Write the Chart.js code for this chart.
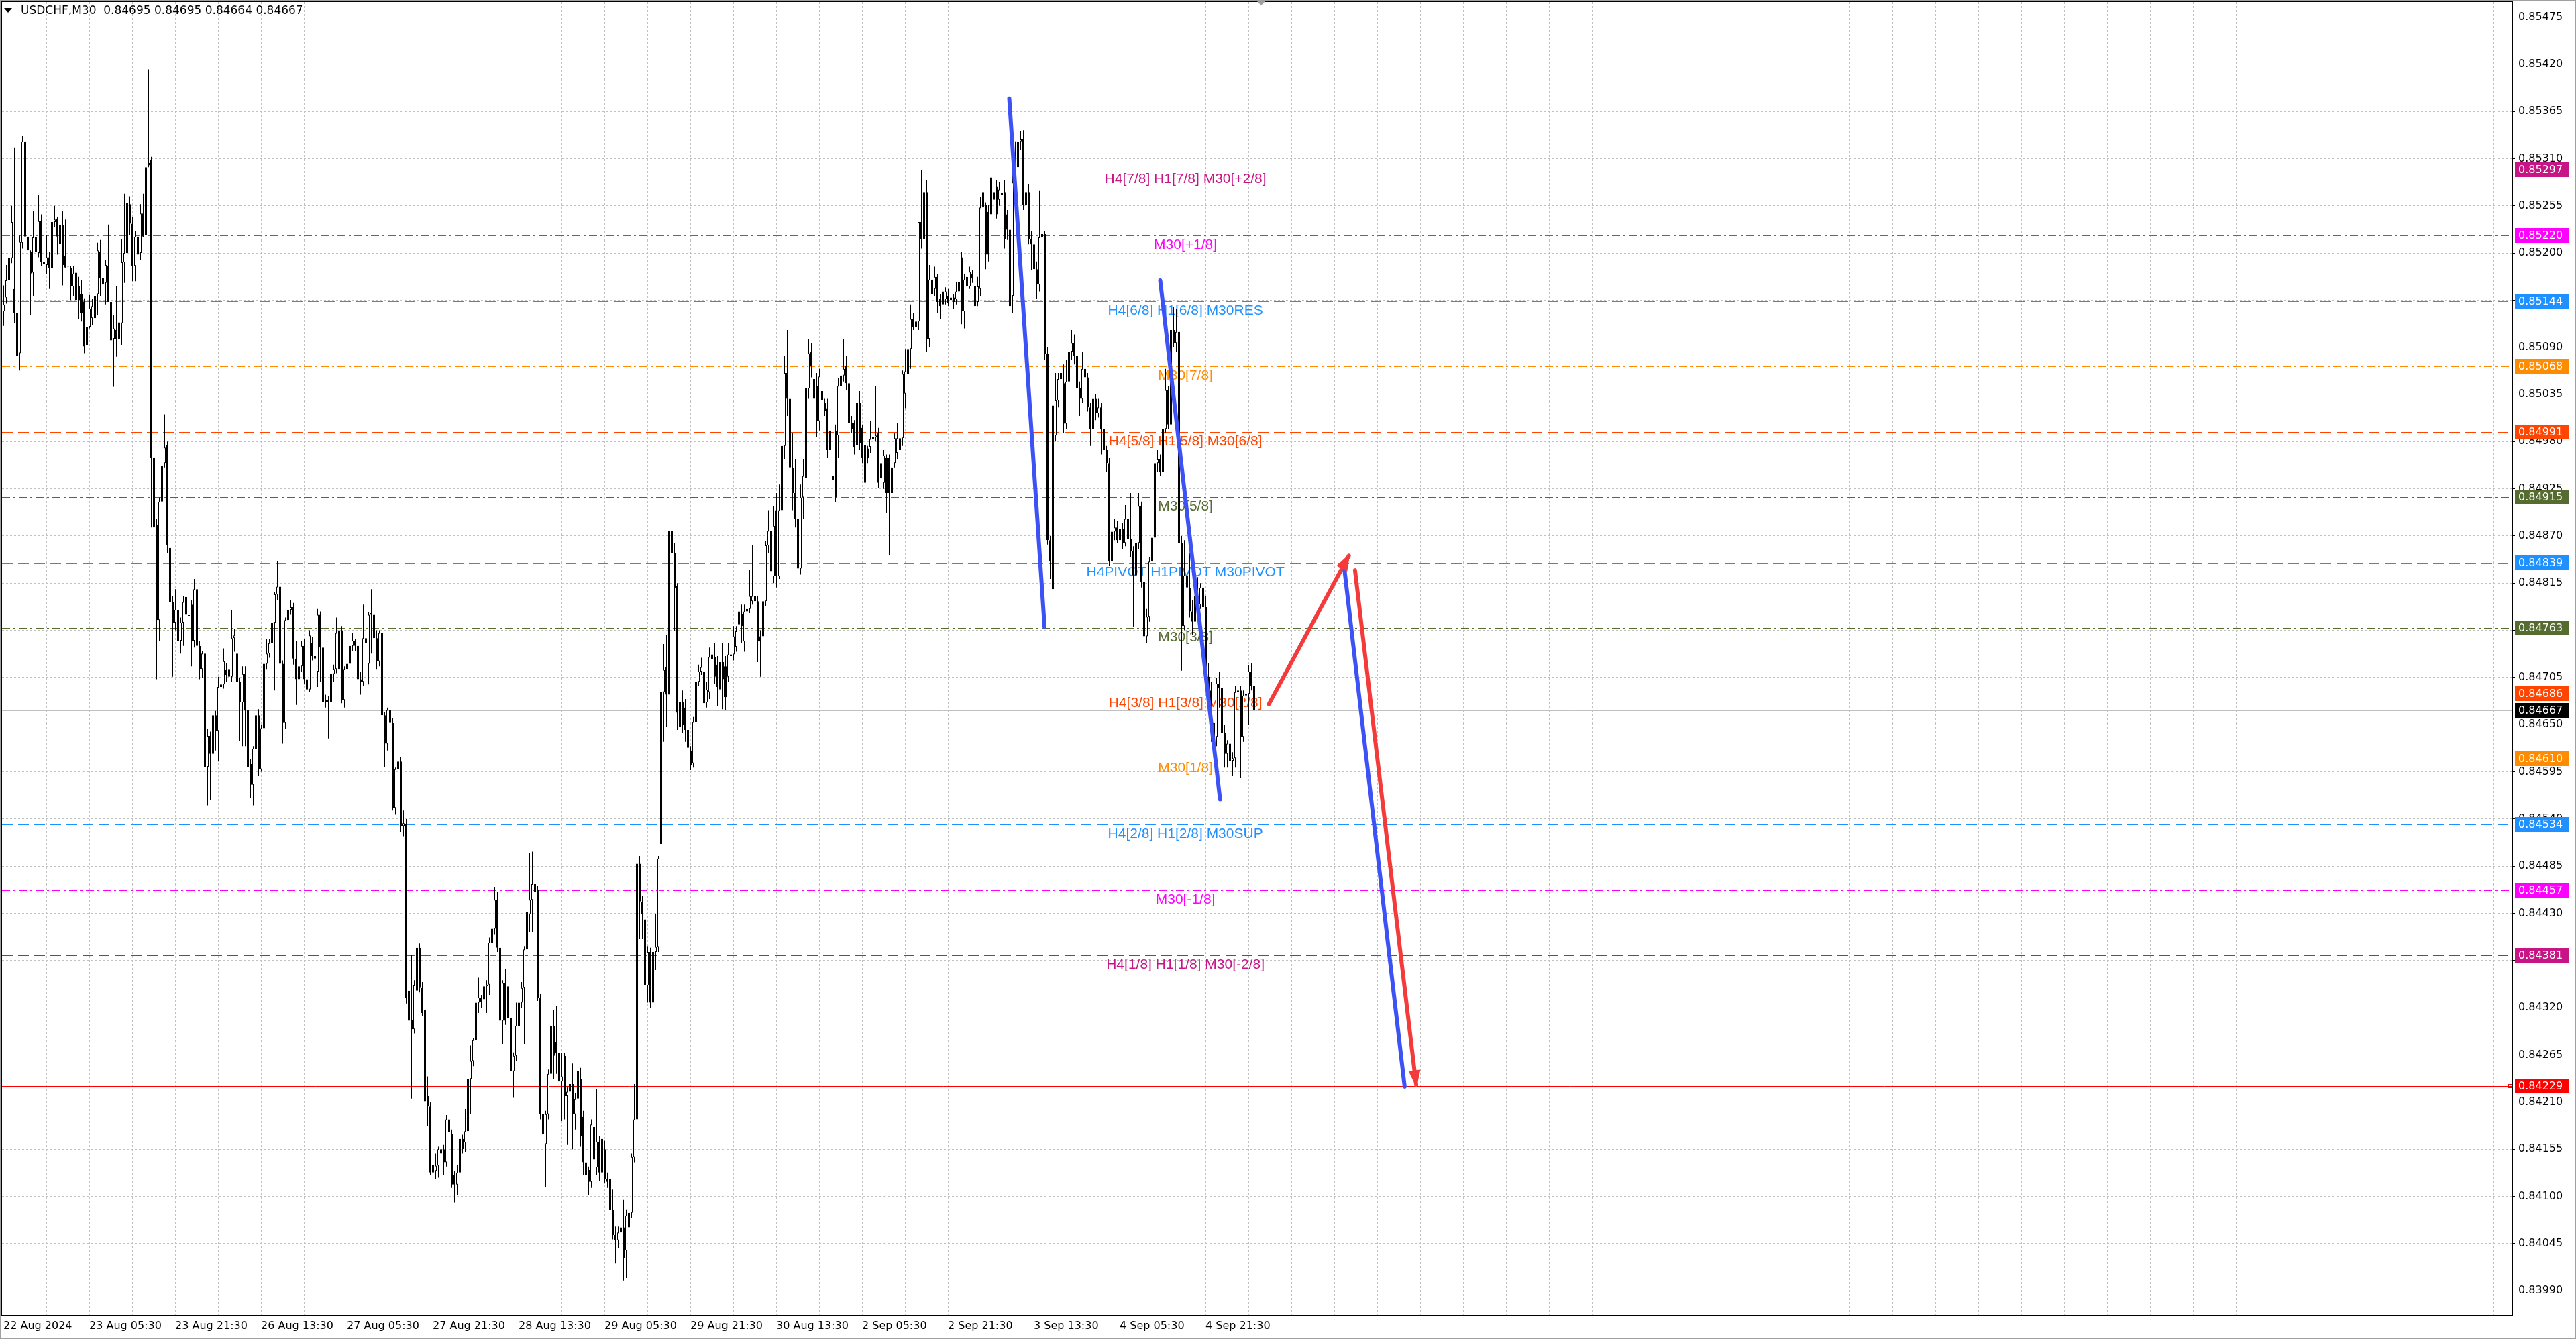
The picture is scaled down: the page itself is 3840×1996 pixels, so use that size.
<!DOCTYPE html>
<html>
<head>
<meta charset="utf-8">
<title>USDCHF,M30</title>
<script src="https://cdn.jsdelivr.net/npm/chart.js@4.4.1/dist/chart.umd.min.js"></script>
<style>
  html, body { margin: 0; padding: 0; background: #fff; overflow: hidden; }
  canvas { display: block; }
</style>
</head>
<body>
<canvas id="chart" width="3840" height="1996"></canvas>
<script>
/* USDCHF M30 candles, prices kept in points (1e-5) */

const opens = [
  85132,85148,85168,85194,85158,85130,85083,85212,85330,85219,
  85201,85177,85218,85200,85237,85189,85186,85195,85182,85236,
  85240,85210,85232,85196,85185,85182,85161,85177,85161,85152,
  85143,85092,85114,85124,85124,85152,85201,85171,85165,85185,
  85143,85100,85110,85100,85118,85189,85200,85257,85234,85185,
  85219,85200,85246,85221,85305,85309,84961,84883,84772,84910,
  84955,84976,84856,84793,84769,84784,84748,84769,84799,84777,
  84790,84748,84808,84742,84715,84733,84601,84637,84616,84661,
  84643,84694,84697,84714,84715,84706,84751,84733,84700,84676,
  84709,84667,84604,84580,84622,84661,84598,84646,84721,84733,
  84745,84769,84802,84811,84721,84652,84772,84784,84787,84727,
  84703,84718,84742,84703,84691,84745,84730,84712,84778,84740,
  84679,84679,84676,84709,84715,84715,84760,84679,84715,84721,
  84742,84748,84742,84703,84700,84751,84721,84778,84778,84751,
  84724,84757,84661,84628,84667,84652,84553,84598,84607,84532,
  84534,84340,84306,84295,84340,84390,84343,84317,84217,84205,
  84137,84130,84136,84155,84155,84140,84190,84173,84125,84114,
  84128,84167,84163,84176,84237,84258,84282,84326,84332,84330,
  84345,84347,84396,84412,84446,84390,84305,84349,84345,84308,
  84246,84264,84299,84326,84343,84388,84429,84446,84464,84458,
  84332,84196,84161,84196,84243,84299,84280,84267,84234,84264,
  84217,84222,84231,84196,84214,84237,84193,84140,84131,84117,
  84181,84134,84164,84128,84155,84120,84120,84084,84055,84049,
  84058,84064,84037,84064,84081,84146,84190,84488,84444,84423,
  84346,84385,84326,84385,84391,84511,84688,84717,84685,84876,
  84850,84812,84647,84676,84670,84644,84620,84605,84653,84700,
  84712,84712,84676,84688,84726,84729,84720,84691,84723,84718,
  84706,84732,84732,84741,84767,84779,84747,84782,84785,84794,
  84800,84794,84753,84753,84794,84859,84876,84823,84900,84823,
  84900,84975,85060,85030,84950,84920,84890,84832,84915,84938,
  85042,85085,85053,85045,85004,85039,85025,85019,84970,84940,
  84993,84987,85045,85057,85068,85048,85002,85002,84976,85025,
  84996,84976,84972,84974,84983,84985,84990,84955,84932,84961,
  84961,84950,84955,84967,84984,84984,85036,85059,85088,85123,
  85114,85120,85236,85216,85271,85100,85169,85158,85172,85146,
  85155,85146,85150,85145,85148,85146,85155,85195,85132,85172,
  85161,85175,85161,85143,85158,85253,85256,85248,85245,85271,
  85277,85262,85270,85271,85245,85227,85150,85282,85300,85330,
  85333,85256,85271,85216,85210,85181,85163,85218,85222,85082,
  84865,84808,84987,85028,85053,85048,85001,85050,85085,85095,
  85080,85042,85030,85065,85055,85020,84995,85030,85013,85020,
  84995,84970,84955,84840,84875,84880,84865,84878,84862,84890,
  84866,84852,84824,84862,84905,84816,84753,84776,84840,84868,
  84955,84960,84945,84995,85040,85000,85110,85095,85108,84862,
  84765,84824,84810,84782,84770,84800,84790,84810,84787,84706,
  84690,84652,84636,84698,84693,84640,84616,84628,84608,84611,
  84688,84690,84636,84684,84686,84712,84695
];

const highs = [
  85162,85186,85258,85255,85323,85152,85220,85336,85337,85287,
  85203,85249,85225,85268,85245,85201,85221,85201,85252,85255,
  85242,85266,85249,85239,85190,85185,85185,85203,85172,85168,
  85147,85120,85151,85146,85161,85212,85215,85185,85192,85233,
  85157,85128,85161,85153,85216,85269,85261,85266,85242,85225,
  85239,85257,85269,85329,85414,85312,84965,84890,84915,85012,
  85012,84980,84860,84800,84808,84790,84775,84800,84808,84782,
  84795,84820,84815,84748,84736,84755,84645,84642,84685,84666,
  84706,84705,84739,84722,84722,84784,84762,84740,84705,84718,
  84718,84682,84610,84625,84667,84668,84650,84725,84750,84750,
  84850,84805,84841,84838,84725,84775,84790,84795,84792,84748,
  84725,84748,84750,84710,84760,84752,84738,84785,84782,84772,
  84685,84683,84712,84720,84775,84787,84765,84718,84725,84751,
  84757,84750,84745,84712,84790,84757,84781,84808,84838,84760,
  84760,84760,84665,84670,84703,84658,84600,84610,84612,84550,
  84540,84345,84382,84352,84405,84395,84350,84320,84240,84210,
  84142,84150,84158,84162,84160,84195,84195,84178,84130,84137,
  84190,84172,84202,84240,84276,84285,84332,84355,84335,84352,
  84352,84402,84420,84461,84455,84395,84352,84365,84358,84312,
  84268,84326,84330,84350,84392,84435,84500,84502,84517,84462,
  84336,84200,84200,84248,84311,84317,84322,84290,84267,84267,
  84228,84267,84255,84220,84255,84250,84200,84155,84135,84190,
  84190,84225,84170,84170,84165,84128,84128,84108,84065,84065,
  84070,84096,84085,84113,84150,84231,84597,84497,84450,84430,
  84392,84390,84394,84429,84497,84785,84744,84755,84905,84910,
  84862,84815,84690,84690,84680,84650,84625,84659,84705,84720,
  84728,84718,84700,84740,84742,84745,84730,84742,84745,84730,
  84745,84742,84765,84765,84793,84790,84790,84800,84830,84859,
  84815,84800,84760,84800,84864,84900,84890,84905,84920,84930,
  84990,85080,85110,85045,84990,84960,84895,84930,84960,85059,
  85100,85095,85062,85060,85065,85060,85030,85030,85001,85000,
  85000,85054,85060,85100,85080,85095,85010,85005,85039,85039,
  85000,84982,84975,85004,85000,85045,84996,84964,84970,84965,
  84965,84960,84990,85002,84995,85063,85088,85137,85140,85130,
  85125,85236,85297,85385,85285,85186,85180,85184,85175,85152,
  85158,85160,85158,85152,85152,85166,85180,85201,85175,85178,
  85184,85180,85164,85172,85265,85275,85259,85256,85288,85280,
  85285,85283,85280,85285,85250,85271,85296,85330,85375,85342,
  85343,85343,85280,85225,85225,85190,85273,85230,85225,85090,
  84870,85030,85060,85060,85111,85070,85075,85110,85110,85105,
  85085,85050,85085,85075,85060,85025,85040,85035,85030,85025,
  85005,84975,84961,84935,84890,84888,84882,84885,84906,84895,
  84920,84858,84865,84920,84910,84822,84785,84845,84875,84995,
  84970,84965,85000,85065,85045,85181,85137,85135,85112,84870,
  84865,84840,84850,84795,84810,84822,84815,84815,84800,84722,
  84700,84660,84705,84712,84702,84650,84632,84632,84618,84695,
  84717,84695,84690,84700,84719,84722,84695
];

const lows = [
  85115,85141,85160,85188,85118,85058,85063,85205,85215,85180,
  85128,85150,85185,85195,85185,85144,85175,85158,85175,85230,
  85198,85172,85162,85183,85175,85145,85150,85133,85123,85120,
  85083,85041,85112,85116,85120,85128,85150,85150,85140,85143,
  85049,85044,85079,85080,85092,85165,85179,85221,85167,85167,
  85164,85192,85218,85218,85300,84880,84808,84703,84748,84900,
  84950,84850,84785,84706,84760,84712,84733,84742,84770,84766,
  84718,84740,84738,84703,84705,84583,84556,84562,84607,84620,
  84607,84690,84692,84700,84690,84700,84735,84690,84631,84625,
  84625,84586,84565,84556,84619,84590,84595,84640,84715,84728,
  84740,84690,84795,84718,84628,84645,84765,84778,84720,84673,
  84698,84712,84697,84688,84688,84725,84722,84694,84700,84673,
  84670,84634,84670,84700,84710,84710,84675,84670,84710,84716,
  84736,84736,84700,84685,84695,84720,84697,84733,84745,84715,
  84718,84655,84601,84620,84645,84550,84545,84590,84525,84520,
  84325,84300,84214,84290,84300,84338,84310,84205,84182,84125,
  84090,84120,84122,84140,84125,84135,84134,84110,84093,84102,
  84110,84150,84152,84170,84196,84252,84270,84314,84320,84317,
  84314,84335,84370,84405,84385,84300,84278,84300,84300,84217,
  84215,84258,84290,84320,84278,84380,84408,84408,84450,84328,
  84190,84137,84111,84190,84235,84237,84243,84230,84188,84190,
  84160,84195,84155,84178,84190,84158,84125,84118,84102,84110,
  84135,84125,84118,84120,84115,84110,84070,84050,84022,84040,
  84050,84002,84005,84055,84075,84140,84185,84400,84400,84320,
  84326,84320,84320,84364,84385,84467,84630,84647,84670,84840,
  84759,84644,84640,84640,84630,84615,84597,84600,84648,84695,
  84708,84626,84670,84680,84720,84698,84672,84688,84668,84667,
  84700,84720,84725,84735,84755,84745,84735,84775,84780,84790,
  84785,84723,84706,84700,84788,84850,84815,84815,84810,84820,
  84890,84960,85010,84940,84900,84880,84747,84825,84890,84923,
  85030,85055,84996,84985,84993,85007,85010,84961,84958,84932,
  84909,84961,85040,85050,85040,84995,84990,84965,84973,84970,
  84955,84923,84955,84967,84978,84980,84926,84912,84925,84897,
  84848,84900,84950,84960,84965,84975,85019,85055,85065,85110,
  85108,85110,85205,85165,85085,85090,85145,85150,85130,85123,
  85135,85140,85138,85138,85135,85140,85150,85117,85112,85158,
  85158,85165,85135,85138,85150,85240,85181,85190,85240,85255,
  85240,85255,85262,85205,85215,85109,85130,85260,85290,85320,
  85250,85250,85210,85180,85155,85146,85155,85145,85075,84860,
  84820,84779,84980,85020,85040,84990,84995,85045,85075,85070,
  85035,85010,85025,85045,85015,84975,84990,85005,85008,84965,
  84940,84945,84835,84816,84865,84862,84858,84855,84858,84860,
  84845,84764,84815,84855,84810,84718,84745,84770,84830,84860,
  84945,84940,84940,84990,84995,84995,85090,85085,84858,84713,
  84760,84780,84775,84755,84765,84780,84785,84780,84700,84680,
  84630,84625,84625,84670,84630,84600,84600,84553,84590,84600,
  84680,84588,84630,84670,84650,84690,84664
];

const closes = [
  85140,85168,85194,85236,85130,85080,85213,85330,85219,85203,
  85176,85218,85201,85237,85189,85187,85195,85182,85236,85239,
  85219,85233,85186,85183,85184,85161,85176,85145,85145,85130,
  85091,85114,85135,85138,85150,85203,85171,85163,85186,85143,
  85098,85112,85100,85119,85189,85200,85258,85234,85185,85219,
  85198,85246,85219,85300,85302,84961,84880,84772,84910,84952,
  84973,84859,84793,84769,84784,84748,84769,84793,84778,84777,
  84748,84808,84742,84715,84733,84601,84637,84616,84661,84643,
  84694,84697,84724,84708,84706,84751,84754,84700,84676,84709,
  84667,84601,84580,84622,84661,84598,84646,84721,84733,84745,
  84769,84802,84811,84721,84652,84772,84784,84787,84727,84703,
  84718,84742,84703,84691,84754,84730,84727,84778,84740,84676,
  84676,84676,84709,84715,84757,84760,84679,84715,84721,84742,
  84748,84742,84703,84700,84751,84745,84778,84780,84751,84724,
  84757,84661,84628,84667,84652,84553,84598,84607,84532,84535,
  84332,84305,84295,84346,84390,84343,84314,84211,84205,84128,
  84128,84136,84155,84150,84140,84190,84175,84114,84114,84128,
  84167,84155,84176,84237,84258,84282,84326,84332,84327,84345,
  84347,84396,84412,84446,84390,84305,84349,84305,84308,84246,
  84264,84299,84326,84343,84388,84432,84446,84464,84455,84332,
  84196,84173,84196,84243,84299,84264,84267,84234,84240,84217,
  84222,84231,84196,84214,84246,84170,84140,84125,84117,84184,
  84143,84164,84128,84167,84120,84117,84084,84055,84049,84058,
  84064,84028,84078,84081,84146,84190,84488,84444,84429,84346,
  84385,84326,84385,84391,84494,84688,84714,84685,84876,84850,
  84809,84664,84676,84650,84644,84623,84603,84653,84700,84712,
  84717,84675,84691,84729,84732,84706,84694,84723,84703,84682,
  84732,84730,84753,84759,84782,84765,84782,84785,84800,84800,
  84794,84747,84747,84794,84859,84876,84829,84882,84823,84900,
  84975,85060,85030,84950,84920,84890,84832,84915,84940,85042,
  85083,85068,85030,85004,85056,85028,85016,84970,84993,84935,
  84915,85045,85057,85065,85048,85002,84995,84973,85025,84978,
  84961,84932,84961,84983,84985,84987,84932,84938,84964,84920,
  84920,84920,84984,84984,84970,85059,85062,85088,85123,85114,
  85120,85236,85216,85271,85100,85169,85152,85172,85143,85138,
  85140,85155,85142,85148,85143,85155,85166,85132,85169,85161,
  85178,85170,85138,85161,85253,85271,85198,85198,85288,85262,
  85245,85274,85268,85216,85227,85138,85282,85300,85330,85333,
  85256,85271,85216,85210,85181,85163,85218,85222,85082,84865,
  84840,85022,85028,85053,85060,85001,85050,85085,85095,85080,
  85042,85030,85065,85055,85020,84995,85030,85013,85020,84995,
  84970,84955,84840,84875,84880,84865,84878,84862,84890,84866,
  84852,84824,84862,84905,84816,84753,84776,84840,84868,84955,
  84960,84945,84995,85040,85000,85110,85095,85108,84862,84765,
  84824,84810,84782,84770,84800,84790,84810,84787,84706,84690,
  84652,84636,84698,84693,84640,84616,84628,84608,84611,84688,
  84690,84636,84684,84686,84712,84695,84667
];

// price axis ticks and time axis labels (one label every 32 bars)
const priceTicks = [
  0.85475, 0.85420, 0.85365, 0.85310, 0.85255, 0.85200, 0.85145, 0.85090, 0.85035,
  0.84980, 0.84925, 0.84870, 0.84815, 0.84760, 0.84705, 0.84650, 0.84595, 0.84540,
  0.84485, 0.84430, 0.84375, 0.84320, 0.84265, 0.84210, 0.84155, 0.84100, 0.84045, 0.83990
];
const timeLabels = [
  '22 Aug 2024', '23 Aug 05:30', '23 Aug 21:30', '26 Aug 13:30', '27 Aug 05:30',
  '27 Aug 21:30', '28 Aug 13:30', '29 Aug 05:30', '29 Aug 21:30', '30 Aug 13:30',
  '2 Sep 05:30', '2 Sep 21:30', '3 Sep 13:30', '4 Sep 05:30', '4 Sep 21:30'
];
const timeLabelBars = [0, 32, 64, 96, 128, 160, 192, 224, 256, 288, 320, 352, 384, 416, 448];

// Murrey math levels
const levelPrices = [0.85297, 0.85220, 0.85144, 0.85068, 0.84991, 0.84915, 0.84839,
                     0.84763, 0.84686, 0.84610, 0.84534, 0.84457, 0.84381];
const levelTexts = [
  'H4[7/8] H1[7/8] M30[+2/8]', 'M30[+1/8]', 'H4[6/8] H1[6/8] M30RES', 'M30[7/8]',
  'H4[5/8] H1[5/8] M30[6/8]', 'M30[5/8]', 'H4PIVOT H1PIVOT M30PIVOT', 'M30[3/8]',
  'H4[3/8] H1[3/8] M30[2/8]', 'M30[1/8]', 'H4[2/8] H1[2/8] M30SUP', 'M30[-1/8]',
  'H4[1/8] H1[1/8] M30[-2/8]'
];
const targetPrice = 0.84229;

// hand drawn analysis: [bar, price] end points
const blueLines = [
  [[374.75, 0.85380], [387.9, 0.84764]],
  [[431.0, 0.85168], [453.3, 0.84563]],
  [[499.4, 0.84838], [522.1, 0.84228]]
];
const redArrows = [
  [[471.5, 0.84674], [501.3, 0.84847]],
  [[503.6, 0.84830], [526.4, 0.84230]]
];

// ---- styles ----
const levelColors = ['#C71585', '#FF00FF', '#1E90FF', '#FF8C00', '#FF4500', '#556B2F', '#1E90FF',
                     '#556B2F', '#FF4500', '#FF8C00', '#1E90FF', '#FF00FF', '#C71585'];
const DASH = [16, 8];
const DASHDOT = [12, 5, 3, 5];
const levelDashes = [DASH, DASHDOT, DASH, DASHDOT, DASH, DASHDOT, DASH,
                     DASHDOT, DASH, DASHDOT, DASH, DASHDOT, DASH];
const LEVEL_TEXT_BAR = 440.4;
const AXIS_FONT = '16px "DejaVu Sans", Verdana, sans-serif';
const TITLE_FONT = '17px "DejaVu Sans", Verdana, sans-serif';
const LEVEL_FONT = '21px "Liberation Sans", Arial, sans-serif';
const BLUE = '#3D52F4';
const RED = '#F43B3B';
const TREND_WIDTH = 6;

const N = closes.length;
const toPrice = v => v / 1e5;

const bodyData = [], wickData = [], bodyColors = [];
for (let i = 0; i < N; i++) {
  wickData.push({ x: i, y: [toPrice(lows[i]), toPrice(highs[i])] });
  bodyData.push({ x: i, y: [toPrice(opens[i]), toPrice(closes[i])] });
  bodyColors.push(closes[i] >= opens[i] ? '#ffffff' : '#000000');
}
const lastPrice = toPrice(closes[N - 1]);

const gridBars = [];
for (let b = 16; b <= 934; b += 16) gridBars.push(b);

const lineSet = (pts, color) => ({
  type: 'line',
  data: pts.map(([b, p]) => ({ x: b, y: p })),
  borderColor: color,
  borderWidth: TREND_WIDTH,
  borderCapStyle: 'round',
  pointRadius: 0,
  order: 0
});

function hLine(ctx, area, y, color, dash) {
  const yy = Math.round(y) + 0.5;
  ctx.save();
  ctx.strokeStyle = color;
  ctx.lineWidth = 1;
  ctx.setLineDash(dash);
  ctx.beginPath();
  ctx.moveTo(area.left, yy);
  ctx.lineTo(area.right, yy);
  ctx.stroke();
  ctx.restore();
}

// keep the plot area fixed: no extra room for edge labels
const noPad = s => { s.paddingTop = 0; s.paddingBottom = 0; s.paddingLeft = 0; s.paddingRight = 0; };

const levelsPlugin = {
  id: 'levels',
  beforeDraw(chart) {
    const ctx = chart.ctx;
    ctx.save();
    ctx.fillStyle = '#fff';
    ctx.fillRect(0, 0, chart.width, chart.height);
    ctx.restore();
  },
  beforeDatasetsDraw(chart) {
    const { ctx, chartArea: a, scales: { x, y } } = chart;
    ctx.save();
    ctx.beginPath();
    ctx.rect(a.left, a.top, a.right - a.left, a.bottom - a.top);
    ctx.clip();
    ctx.font = LEVEL_FONT;
    ctx.textAlign = 'center';
    ctx.textBaseline = 'top';
    const tx = x.getPixelForValue(LEVEL_TEXT_BAR);
    levelPrices.forEach((p, k) => {
      const yy = y.getPixelForValue(p);
      hLine(ctx, a, yy, levelColors[k], levelDashes[k]);
      ctx.fillStyle = levelColors[k];
      ctx.fillText(levelTexts[k], tx, Math.round(yy) + 4);
    });
    hLine(ctx, a, y.getPixelForValue(lastPrice), '#C0C0C0', []);
    hLine(ctx, a, y.getPixelForValue(targetPrice), '#FF0000', []);
    ctx.restore();
  },
  afterDatasetsDraw(chart) {
    const { ctx, scales: { x, y } } = chart;
    ctx.save();
    ctx.fillStyle = RED;
    redArrows.forEach(pts => {
      const [b0, p0] = pts[0], [b1, p1] = pts[1];
      const x0 = x.getPixelForValue(b0), y0 = y.getPixelForValue(p0);
      const x1 = x.getPixelForValue(b1), y1 = y.getPixelForValue(p1);
      const ang = Math.atan2(y1 - y0, x1 - x0);
      const len = 22, half = 9;
      const bx = x1 - Math.cos(ang) * len, by = y1 - Math.sin(ang) * len;
      ctx.beginPath();
      ctx.moveTo(x1 + Math.cos(ang) * 4, y1 + Math.sin(ang) * 4);
      ctx.lineTo(bx - Math.sin(ang) * half, by + Math.cos(ang) * half);
      ctx.lineTo(bx + Math.sin(ang) * half, by - Math.cos(ang) * half);
      ctx.closePath();
      ctx.fill();
    });
    // selected-object handle on the target line
    const ty = Math.round(y.getPixelForValue(targetPrice));
    ctx.strokeStyle = '#FF0000';
    ctx.lineWidth = 1;
    ctx.strokeRect(chart.chartArea.right - 5.5, ty - 2.5, 5, 5);
    ctx.restore();
  },
  afterDraw(chart) {
    const { ctx, chartArea: a, scales: { x, y } } = chart;
    ctx.save();
    // frame
    ctx.strokeStyle = '#A0A0A0';
    ctx.lineWidth = 1;
    ctx.strokeRect(0.5, 0.5, chart.width - 1, chart.height - 1);
    ctx.strokeStyle = '#000';
    ctx.strokeRect(a.left - 0.5, a.top - 0.5, a.right - a.left + 1, a.bottom - a.top + 1);

    // price tags on the axis
    const tag = (price, bg) => {
      const yy = Math.round(y.getPixelForValue(price));
      ctx.fillStyle = bg;
      ctx.fillRect(a.right + 4, yy - 11, 80, 22);
      ctx.fillStyle = '#fff';
      ctx.font = AXIS_FONT;
      ctx.textAlign = 'left';
      ctx.textBaseline = 'middle';
      ctx.fillText(price.toFixed(5), a.right + 9, yy + 1);
    };
    levelPrices.forEach((p, k) => tag(p, levelColors[k]));
    tag(lastPrice, '#000000');
    tag(targetPrice, '#FF0000');

    // time labels
    ctx.fillStyle = '#000';
    ctx.font = AXIS_FONT;
    ctx.textAlign = 'left';
    ctx.textBaseline = 'middle';
    timeLabels.forEach((t, k) => {
      ctx.fillText(t, Math.round(x.getPixelForValue(timeLabelBars[k])) - 1, a.bottom + 17);
    });

    // title
    ctx.beginPath();
    ctx.moveTo(6, 12); ctx.lineTo(18, 12); ctx.lineTo(12, 19);
    ctx.closePath();
    ctx.fill();
    const f = v => toPrice(v).toFixed(5);
    ctx.font = TITLE_FONT;
    ctx.fillText('USDCHF,M30  ' + f(opens[N - 1]) + ' ' + f(highs[N - 1]) + ' ' +
      f(lows[N - 1]) + ' ' + f(closes[N - 1]), 31, 17);

    // chart shift marker
    const sx = Math.round(x.getPixelForValue(N + 1.5));
    ctx.fillStyle = '#A0A0A0';
    ctx.beginPath();
    ctx.moveTo(sx - 6, 2); ctx.lineTo(sx + 6, 2); ctx.lineTo(sx, 8);
    ctx.closePath();
    ctx.fill();
    ctx.restore();
  }
};

new Chart(document.getElementById('chart'), {
  type: 'bar',
  data: {
    datasets: [
      ...blueLines.map(pts => lineSet(pts, BLUE)),
      ...redArrows.map(pts => lineSet(pts, RED)),
      {
        label: 'body', data: bodyData, backgroundColor: bodyColors, borderColor: '#000',
        borderWidth: 1, borderSkipped: false, barThickness: 3, grouped: false,
        minBarLength: 1, inflateAmount: 0, order: 1
      },
      {
        label: 'wick', data: wickData, backgroundColor: '#000', borderWidth: 0,
        barThickness: 1, grouped: false, minBarLength: 1, inflateAmount: 0, order: 2
      }
    ]
  },
  options: {
    responsive: false,
    animation: false,
    devicePixelRatio: 1,
    layout: { padding: { left: 3, top: 3, right: 0, bottom: 0 } },
    plugins: { legend: { display: false }, tooltip: { enabled: false } },
    scales: {
      x: {
        type: 'linear', min: -0.625, max: 934.875, offset: false,
        afterBuildTicks: s => { s.ticks = gridBars.map(v => ({ value: v })); },
        afterFit: s => { s.height = 36; noPad(s); },
        ticks: { display: false },
        grid: { color: '#C0C0C0', lineWidth: 1, drawTicks: false, offset: false },
        border: { display: false, dash: [3, 3] }
      },
      y: {
        type: 'linear', position: 'right', min: 0.83962, max: 0.854925,
        afterBuildTicks: s => { s.ticks = priceTicks.map(v => ({ value: v })); },
        afterFit: s => { s.width = 95; noPad(s); },
        ticks: {
          color: '#000', font: { family: '"DejaVu Sans", Verdana, sans-serif', size: 16 },
          padding: 5, autoSkip: false, callback: v => v.toFixed(5)
        },
        grid: { color: '#C0C0C0', lineWidth: 1, drawTicks: true, tickLength: 4,
                tickColor: '#000', tickBorderDash: [] },
        border: { display: false, dash: [3, 3] }
      }
    }
  },
  plugins: [levelsPlugin]
});
</script>
</body>
</html>
